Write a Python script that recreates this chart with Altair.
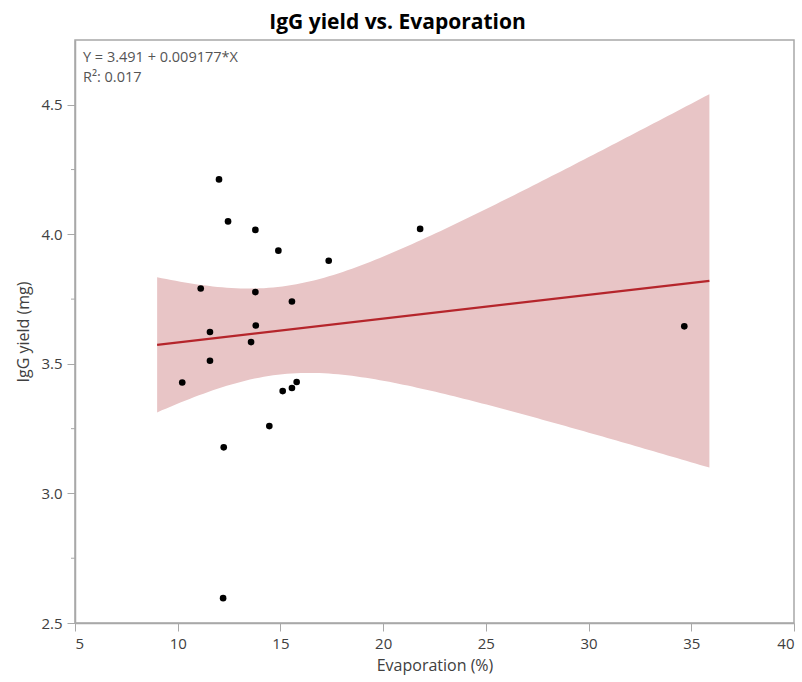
import altair as alt
import numpy as np
import pandas as pd

# Measured evaporation (%) and IgG yield (mg) per run
evaporation = [12.01, 12.45, 13.78, 14.90, 17.35, 21.80, 11.12, 13.78, 15.56, 13.80, 11.57,
               13.57, 11.57, 34.66, 10.22, 15.11, 15.56, 15.79, 14.46, 12.24, 12.21]
igg_yield = [4.212, 4.050, 4.017, 3.937, 3.898, 4.021, 3.791, 3.777, 3.741, 3.648, 3.623,
             3.584, 3.512, 3.645, 3.428, 3.395, 3.407, 3.430, 3.260, 3.178, 2.596]

# Fitted linear model, as reported
intercept = 3.491
slope = 0.009177
r_squared = 0.017

x_ticks = [5, 10, 15, 20, 25, 30, 35, 40]
y_ticks = [2.5, 3.0, 3.5, 4.0, 4.5]
y_minor = [2.75, 3.25, 3.75, 4.25]

FONT = "Open Sans"
AXIS_GREY = "#a8a8a8"
TEXT_GREY = "#404040"

pts = pd.DataFrame({"evap": evaporation, "igg": igg_yield})

# 95% confidence band for the mean response, over the data range +/- 5%
x = np.asarray(evaporation)
y = np.asarray(igg_yield)
n = len(x)
resid = y - (intercept + slope * x)
s = np.sqrt(np.sum(resid ** 2) / (n - 2))
sxx = np.sum((x - x.mean()) ** 2)
t_crit = 2.093  # t(0.975, df=19)
span = x.max() - x.min()
lo, hi = x.min() - 0.05 * span, x.max() + 0.05 * span
grid = np.linspace(lo, hi, 120)
fit = intercept + slope * grid
half = t_crit * s * np.sqrt(1.0 / n + (grid - x.mean()) ** 2 / sxx)
band = pd.DataFrame({"evap": grid, "lower": fit - half, "upper": fit + half})

line = pd.DataFrame({"evap": [lo, hi], "fit": [intercept + slope * lo, intercept + slope * hi]})

xscale = alt.Scale(domain=[5, 40], nice=False, zero=False)
yscale = alt.Scale(domain=[2.5, 4.75], nice=False, zero=False)

xaxis = alt.Axis(values=x_ticks, title="Evaporation (%)", grid=False, tickSize=8,
                 labelPadding=5, titlePadding=6)
yaxis = alt.Axis(values=y_ticks, format=".1f", title="IgG yield (mg)", grid=False,
                 tickSize=8, labelPadding=5, titlePadding=9)

band_layer = alt.Chart(band).mark_area(color="#e8c5c6", opacity=1).encode(
    x=alt.X("evap:Q", scale=xscale, axis=xaxis),
    y=alt.Y("lower:Q", scale=yscale, axis=yaxis),
    y2="upper:Q",
)

line_layer = alt.Chart(line).mark_line(color="#b5252b", strokeWidth=2.2).encode(
    x="evap:Q", y="fit:Q"
)

point_layer = alt.Chart(pts).mark_circle(color="black", opacity=1, size=44).encode(
    x="evap:Q", y="igg:Q"
)

# short minor ticks between the labelled y values
minor = pd.DataFrame({"v": y_minor})
minor_layer = alt.Chart(minor).mark_rule(color=AXIS_GREY, strokeWidth=1, clip=False).encode(
    y="v:Q", x=alt.value(-4), x2=alt.value(0)
)

# fit summary in the top-left corner
notes = pd.DataFrame({
    "label": [f"Y = {intercept} + {slope}*X", f"R²: {r_squared}"],
    "row": [18, 38],
})
note_layer = alt.Chart(notes).mark_text(
    align="left", baseline="middle", font=FONT, fontSize=14.5, color="#555555"
).encode(
    text="label:N",
    x=alt.value(8),
    y=alt.Y("row:Q", scale=None, axis=None),
)

chart = alt.layer(band_layer, line_layer, point_layer, minor_layer, note_layer).properties(
    width=719,
    height=583,
    background="white",
    title=alt.TitleParams(
        "IgG yield vs. Evaporation", anchor="middle", dx=-37, font=FONT,
        fontSize=21, fontWeight="bold", color="black", offset=7,
    ),
    autosize=alt.AutoSizeParams(type="none"),
    padding={"left": 75, "top": 40, "right": 8, "bottom": 59},
).configure_view(
    stroke=AXIS_GREY, strokeWidth=1.5
).configure_axis(
    domainColor=AXIS_GREY, domainWidth=1.5, tickColor=AXIS_GREY, tickWidth=1,
    labelFont=FONT, labelFontSize=15, labelColor=TEXT_GREY,
    titleFont=FONT, titleFontSize=16, titleFontWeight="normal", titleColor=TEXT_GREY,
)

chart.save("out.html", embed_options={"renderer": "svg", "actions": False})
